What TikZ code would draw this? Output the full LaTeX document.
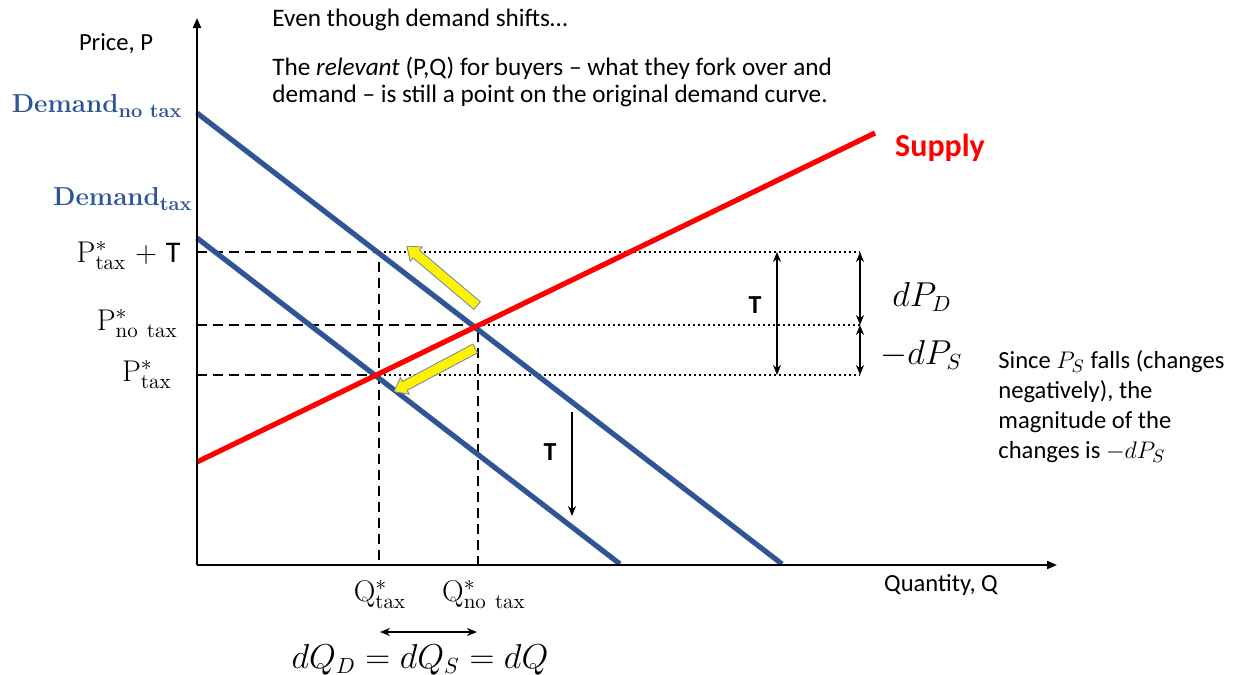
\documentclass[tikz,border=0pt]{standalone}
\usepackage{fontspec}
\setsansfont{Carlito}
\usetikzlibrary{arrows.meta,shapes.arrows}
\definecolor{dblue}{RGB}{47,85,151}
\definecolor{yedge}{RGB}{110,130,170}
\newcommand{\dsubtext}[1]{\raisebox{-0.45ex}{\fontsize{9.8}{10}\selectfont #1}}
\begin{document}
\begin{tikzpicture}[x=0.5pt,y=-0.5pt,
 axis/.style={line width=1pt,-{Triangle[length=5pt,width=4pt]}},
 dcurve/.style={line width=2.6pt,dblue},
 scurve/.style={line width=2.6pt,red},
 guide/.style={line width=1.2pt,dash pattern=on 5pt off 3pt},
 dotline/.style={line width=1.2pt,dash pattern=on 1pt off 1.5pt},
 dbl/.style={line width=0.9pt,{Stealth[length=5pt,width=4pt]}-{Stealth[length=5pt,width=4pt]}},
 sarrow/.style={line width=0.9pt,-{Stealth[length=5pt,width=4pt]}},
 note/.style={font=\sffamily\fontsize{12.6}{13.5}\selectfont,align=left,inner sep=0},
 rnote/.style={font=\sffamily\fontsize{12.3}{15}\selectfont,align=left,inner sep=0},
 plab/.style={font=\fontsize{15}{16}\selectfont,anchor=base east,inner sep=0},
 qlab/.style={font=\fontsize{15}{16}\selectfont,anchor=base,inner sep=0},
 dlab/.style={font=\bfseries\fontsize{13}{15}\selectfont,text=dblue,anchor=base east,inner sep=0},
 mlab/.style={font=\fontsize{16}{18}\selectfont,anchor=west,inner sep=0},
 tlab/.style={font=\sffamily\bfseries\fontsize{13}{15}\selectfont,inner sep=0},
 yarrow/.style={single arrow,fill=yellow,draw=yedge,line width=0.4pt,inner sep=0pt,
   inner ysep=2.3pt,single arrow head extend=2.2pt,single arrow tip angle=75,minimum height=46pt}
]
\path[use as bounding box] (0,0) rectangle (1238,675);

% key points
\coordinate (O) at (197,565);
\coordinate (ytop) at (197,18);
\coordinate (xend) at (1057,565);
\coordinate (dn1) at (197,113);
\coordinate (dn2) at (782,564);
\coordinate (dt1) at (197,238);
\coordinate (dt2) at (620,564);
\coordinate (s1) at (197,462);
\coordinate (s2) at (875,133);
\coordinate (yA) at (197,252);
\coordinate (yB) at (197,325);
\coordinate (yC) at (197,375);
\coordinate (A) at (379,252);
\coordinate (B) at (478,325);
\coordinate (C) at (379,375);
\coordinate (qa) at (379,565);
\coordinate (qb) at (478,565);
\coordinate (eA) at (860,252);
\coordinate (eB) at (860,325);
\coordinate (eC) at (860,375);
\coordinate (tA) at (777,252);
\coordinate (tC) at (777,375);
\coordinate (tdown1) at (572,412);
\coordinate (tdown2) at (572,516);
\coordinate (dq1) at (380,632);
\coordinate (dq2) at (477,632);

% guides
\draw[guide] (yA) -- (A) -- (qa);
\draw[guide] (yB) -- (B) -- (qb);
\draw[guide] (yC) -- (C);
\draw[dotline] (A) -- (eA);
\draw[dotline] (B) -- (eB);
\draw[dotline] (C) -- (eC);

% curves
\draw[dcurve] (dn1) -- (dn2);
\draw[dcurve] (dt1) -- (dt2);
\draw[scurve] (s1) -- (s2);

% axes
\draw[axis] (O) -- (ytop);
\draw[axis] (O) -- (xend);

% yellow arrows
\node[yarrow,rotate=139.8] (ya1) at (444.5,278) {};
\node[yarrow,rotate=208] (ya2) at (437.5,368.5) {};

% arrows
\draw[dbl] (tA) -- (tC);
\draw[dbl] (eA) -- (eB);
\draw[dbl] (eB) -- (eC);
\draw[sarrow] (tdown1) -- (tdown2);
\draw[dbl,line width=0.7pt] (dq1) -- (dq2);

% labels
\node[note,anchor=west] (t1) at (272,20) {Even though demand shifts\ldots};
\node[note,anchor=north west] (t2) at (272,57) {The \textit{relevant} (P,Q) for buyers -- what they fork over and\\demand -- is still a point on the original demand curve.};
\node[rnote,anchor=north west] (t3) at (998,350) {Since $P_S$ falls (changes\\negatively), the\\magnitude of the\\changes is $-dP_S$};
\node[rnote] (price) at (116,44) {Price, P};
\node[rnote] (qty) at (941,585) {Quantity, Q};
\node[font=\sffamily\bfseries\fontsize{16}{18}\selectfont,text=red,inner sep=0] (sup) at (940,148) {Supply};
\node[dlab] (dnl) at (182,112) {Demand\dsubtext{no tax}};
\node[dlab] (dtl) at (192,205) {Demand\dsubtext{tax}};
\node[plab] (p1) at (181,262) {P$^{*}_{\mathrm{tax}}$ + \textsf{T}};
\node[plab] (p2) at (178,330) {P$^{*}_{\mathrm{no\ tax}}$};
\node[plab] (p3) at (172,381) {P$^{*}_{\mathrm{tax}}$};
\node[qlab] (q1) at (380,601) {Q$^{*}_{\mathrm{tax}}$};
\node[qlab] (q2) at (484,601) {Q$^{*}_{\mathrm{no\ tax}}$};
\node[mlab] (dpd) at (892,297) {$dP_D$};
\node[mlab] (dps) at (880,355) {$-dP_S$};
\node[tlab] (T1) at (755,305) {T};
\node[tlab] (T2) at (550,452) {T};
\node[font=\fontsize{16}{18}\selectfont,inner sep=0,anchor=base] (eq) at (420,668) {$dQ_D = dQ_S = dQ$};
\end{tikzpicture}
\end{document}
